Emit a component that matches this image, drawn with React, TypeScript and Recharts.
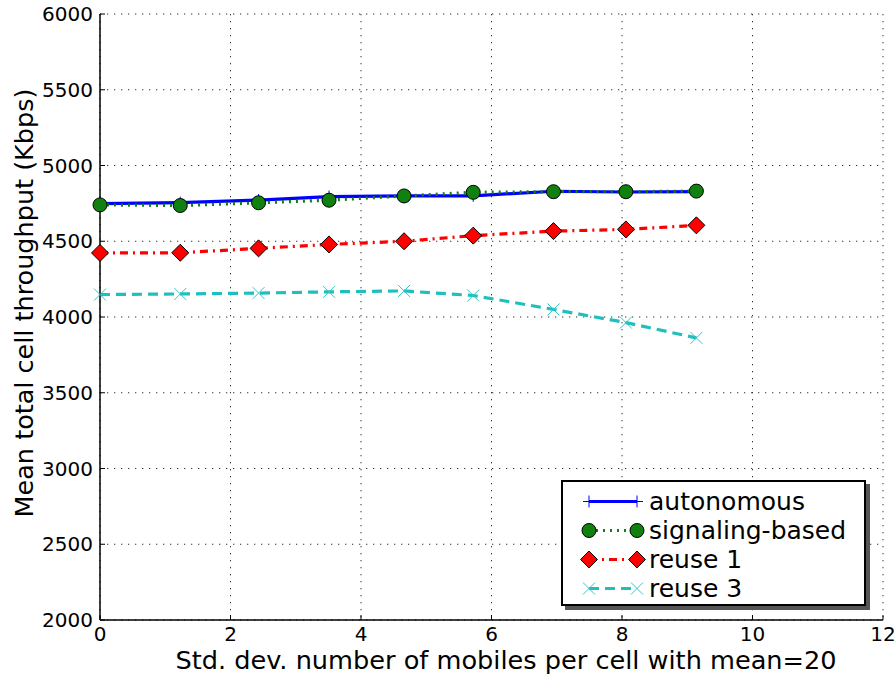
import React from "react";
import { LineChart, Line, XAxis, YAxis, CartesianGrid, Label } from "recharts";

// x positions (std. dev.) and mean throughput per scheme
const stdDev = [0, 1.23, 2.43, 3.51, 4.66, 5.72, 6.95, 8.06, 9.14];
const autonomous = [4748, 4755, 4772, 4795, 4800, 4800, 4830, 4825, 4828];
const signalingBased = [4740, 4736, 4754, 4771, 4799, 4823, 4827, 4827, 4831];
const reuse1 = [4423, 4424, 4453, 4479, 4500, 4537, 4567, 4578, 4605];
const reuse3 = [4148, 4152, 4158, 4166, 4172, 4142, 4050, 3963, 3862];

const xTicks = [0, 2, 4, 6, 8, 10, 12];
const yTicks = [2000, 2500, 3000, 3500, 4000, 4500, 5000, 5500, 6000];

const data = stdDev.map((x, i) => ({
  x,
  autonomous: autonomous[i],
  signaling: signalingBased[i],
  reuse1: reuse1[i],
  reuse3: reuse3[i],
}));

const FONT = "'DejaVu Sans', Verdana, sans-serif";
const TICK_LEN = 5;

// markers
const Plus = ({ cx, cy }: { cx: number; cy: number }) => (
  <g stroke="#0000ff" strokeWidth={1}>
    <line x1={cx - 6} y1={cy} x2={cx + 6} y2={cy} />
    <line x1={cx} y1={cy - 6} x2={cx} y2={cy + 6} />
  </g>
);
const Circle = ({ cx, cy }: { cx: number; cy: number }) => (
  <circle cx={cx} cy={cy} r={7} fill="#108010" stroke="#000" strokeWidth={1} />
);
const Diamond = ({ cx, cy }: { cx: number; cy: number }) => (
  <path
    d={`M${cx},${cy - 8.5} L${cx + 8.5},${cy} L${cx},${cy + 8.5} L${cx - 8.5},${cy} Z`}
    fill="#ff0000"
    stroke="#000"
    strokeWidth={1}
  />
);
const Cross = ({ cx, cy }: { cx: number; cy: number }) => (
  <g stroke="#30c8c8" strokeWidth={1}>
    <line x1={cx - 6} y1={cy - 6} x2={cx + 6} y2={cy + 6} />
    <line x1={cx - 6} y1={cy + 6} x2={cx + 6} y2={cy - 6} />
  </g>
);

const series = [
  { key: "autonomous", name: "autonomous", color: "#0000ff", dash: undefined, Marker: Plus },
  { key: "signaling", name: "signaling-based", color: "#108010", dash: "2 5", Marker: Circle },
  { key: "reuse1", name: "reuse 1", color: "#ff0000", dash: "8 5 2 5", Marker: Diamond },
  { key: "reuse3", name: "reuse 3", color: "#20bfbf", dash: "10 6", Marker: Cross },
];

const BottomTick = (p: any) => (
  <g>
    <line x1={p.x} y1={p.y - 4} x2={p.x} y2={p.y - 4 - TICK_LEN} stroke="#000" />
    <text x={p.x} y={p.y} dy="0.85em" textAnchor="middle" fontSize={20} fontFamily={FONT} fill="#000">
      {p.payload.value}
    </text>
  </g>
);
const LeftTick = (p: any) => (
  <g>
    <line x1={p.x + 7} y1={p.y} x2={p.x + 7 + TICK_LEN} y2={p.y} stroke="#000" />
    <text x={p.x} y={p.y} dy="0.36em" textAnchor="end" fontSize={20} fontFamily={FONT} fill="#000">
      {p.payload.value}
    </text>
  </g>
);
const TopTick = (p: any) => (
  <line x1={p.x} y1={p.y} x2={p.x} y2={p.y + TICK_LEN} stroke="#000" />
);
const RightTick = (p: any) => (
  <line x1={p.x} y1={p.y} x2={p.x - TICK_LEN} y2={p.y} stroke="#000" />
);

const LegendBox = () => (
  <div style={{ position: "absolute", left: 561, top: 480, width: 310, height: 131 }}>
    <div
      style={{
        position: "absolute",
        left: 4,
        top: 4,
        width: 305,
        height: 126,
        background: "#555",
      }}
    />
    <div
      style={{
        position: "absolute",
        left: 0,
        top: 0,
        width: 301,
        height: 122,
        background: "#fff",
        border: "2px solid #000",
      }}
    >
      {series.map((s, i) => (
        <div
          key={s.key}
          style={{ position: "absolute", left: 0, top: 5 + i * 29, height: 29, display: "flex", alignItems: "center" }}
        >
          <svg width={86} height={29}>
            <line x1={26} y1={14.5} x2={74} y2={14.5} stroke={s.color} strokeWidth={3} strokeDasharray={s.dash} />
            <s.Marker cx={26} cy={14.5} />
            <s.Marker cx={74} cy={14.5} />
          </svg>
          <span style={{ fontFamily: FONT, fontSize: 25, color: "#000", lineHeight: "29px", whiteSpace: "nowrap" }}>
            {s.name}
          </span>
        </div>
      ))}
    </div>
  </div>
);

export default function App() {
  return (
    <div style={{ position: "absolute", left: 0, top: 0, width: 896, height: 677, background: "#fff" }}>
      <LineChart width={896} height={677} data={data} margin={{ top: 14, right: 13, bottom: 0, left: 0 }}>
        <CartesianGrid stroke="#333" strokeDasharray="1.3 5.7" />
        <XAxis
          dataKey="x"
          type="number"
          domain={[0, 12]}
          ticks={xTicks}
          height={57}
          tickSize={0}
          tickMargin={4}
          tickLine={false}
          axisLine={{ stroke: "#000", strokeWidth: 1.5 }}
          tick={BottomTick}
        >
          <Label
            content={() => (
              <text x={506} y={669} textAnchor="middle" fontSize={25.6} fontFamily={FONT} fill="#000">
                Std. dev. number of mobiles per cell with mean=20
              </text>
            )}
          />
        </XAxis>
        <XAxis
          xAxisId="top"
          orientation="top"
          dataKey="x"
          type="number"
          domain={[0, 12]}
          ticks={xTicks}
          height={0}
          tickSize={0}
          tickMargin={0}
          tickLine={false}
          axisLine={{ stroke: "#000", strokeWidth: 1.5 }}
          tick={TopTick}
        />
        <YAxis
          type="number"
          domain={[2000, 6000]}
          ticks={yTicks}
          width={100}
          tickSize={0}
          tickMargin={7}
          tickLine={false}
          axisLine={{ stroke: "#000", strokeWidth: 1.5 }}
          tick={LeftTick}
        >
          <Label
            content={() => (
              <text
                x={24}
                y={303}
                transform="rotate(-90 24 303)"
                textAnchor="middle"
                dominantBaseline="central"
                fontSize={25.5}
                fontFamily={FONT}
                fill="#000"
              >
                Mean total cell throughput (Kbps)
              </text>
            )}
          />
        </YAxis>
        <YAxis
          yAxisId="right"
          orientation="right"
          type="number"
          domain={[2000, 6000]}
          ticks={yTicks}
          width={0}
          tickSize={0}
          tickMargin={0}
          tickLine={false}
          axisLine={{ stroke: "#000", strokeWidth: 1.5 }}
          tick={RightTick}
        />
        {series.map((s) => (
          <Line
            key={s.key}
            dataKey={s.key}
            name={s.name}
            stroke={s.color}
            strokeWidth={3.2}
            strokeDasharray={s.dash}
            isAnimationActive={false}
            dot={(p: any) => <s.Marker key={`${s.key}-${p.index}`} cx={p.cx} cy={p.cy} />}
            activeDot={false}
          />
        ))}
      </LineChart>
      <LegendBox />
    </div>
  );
}
